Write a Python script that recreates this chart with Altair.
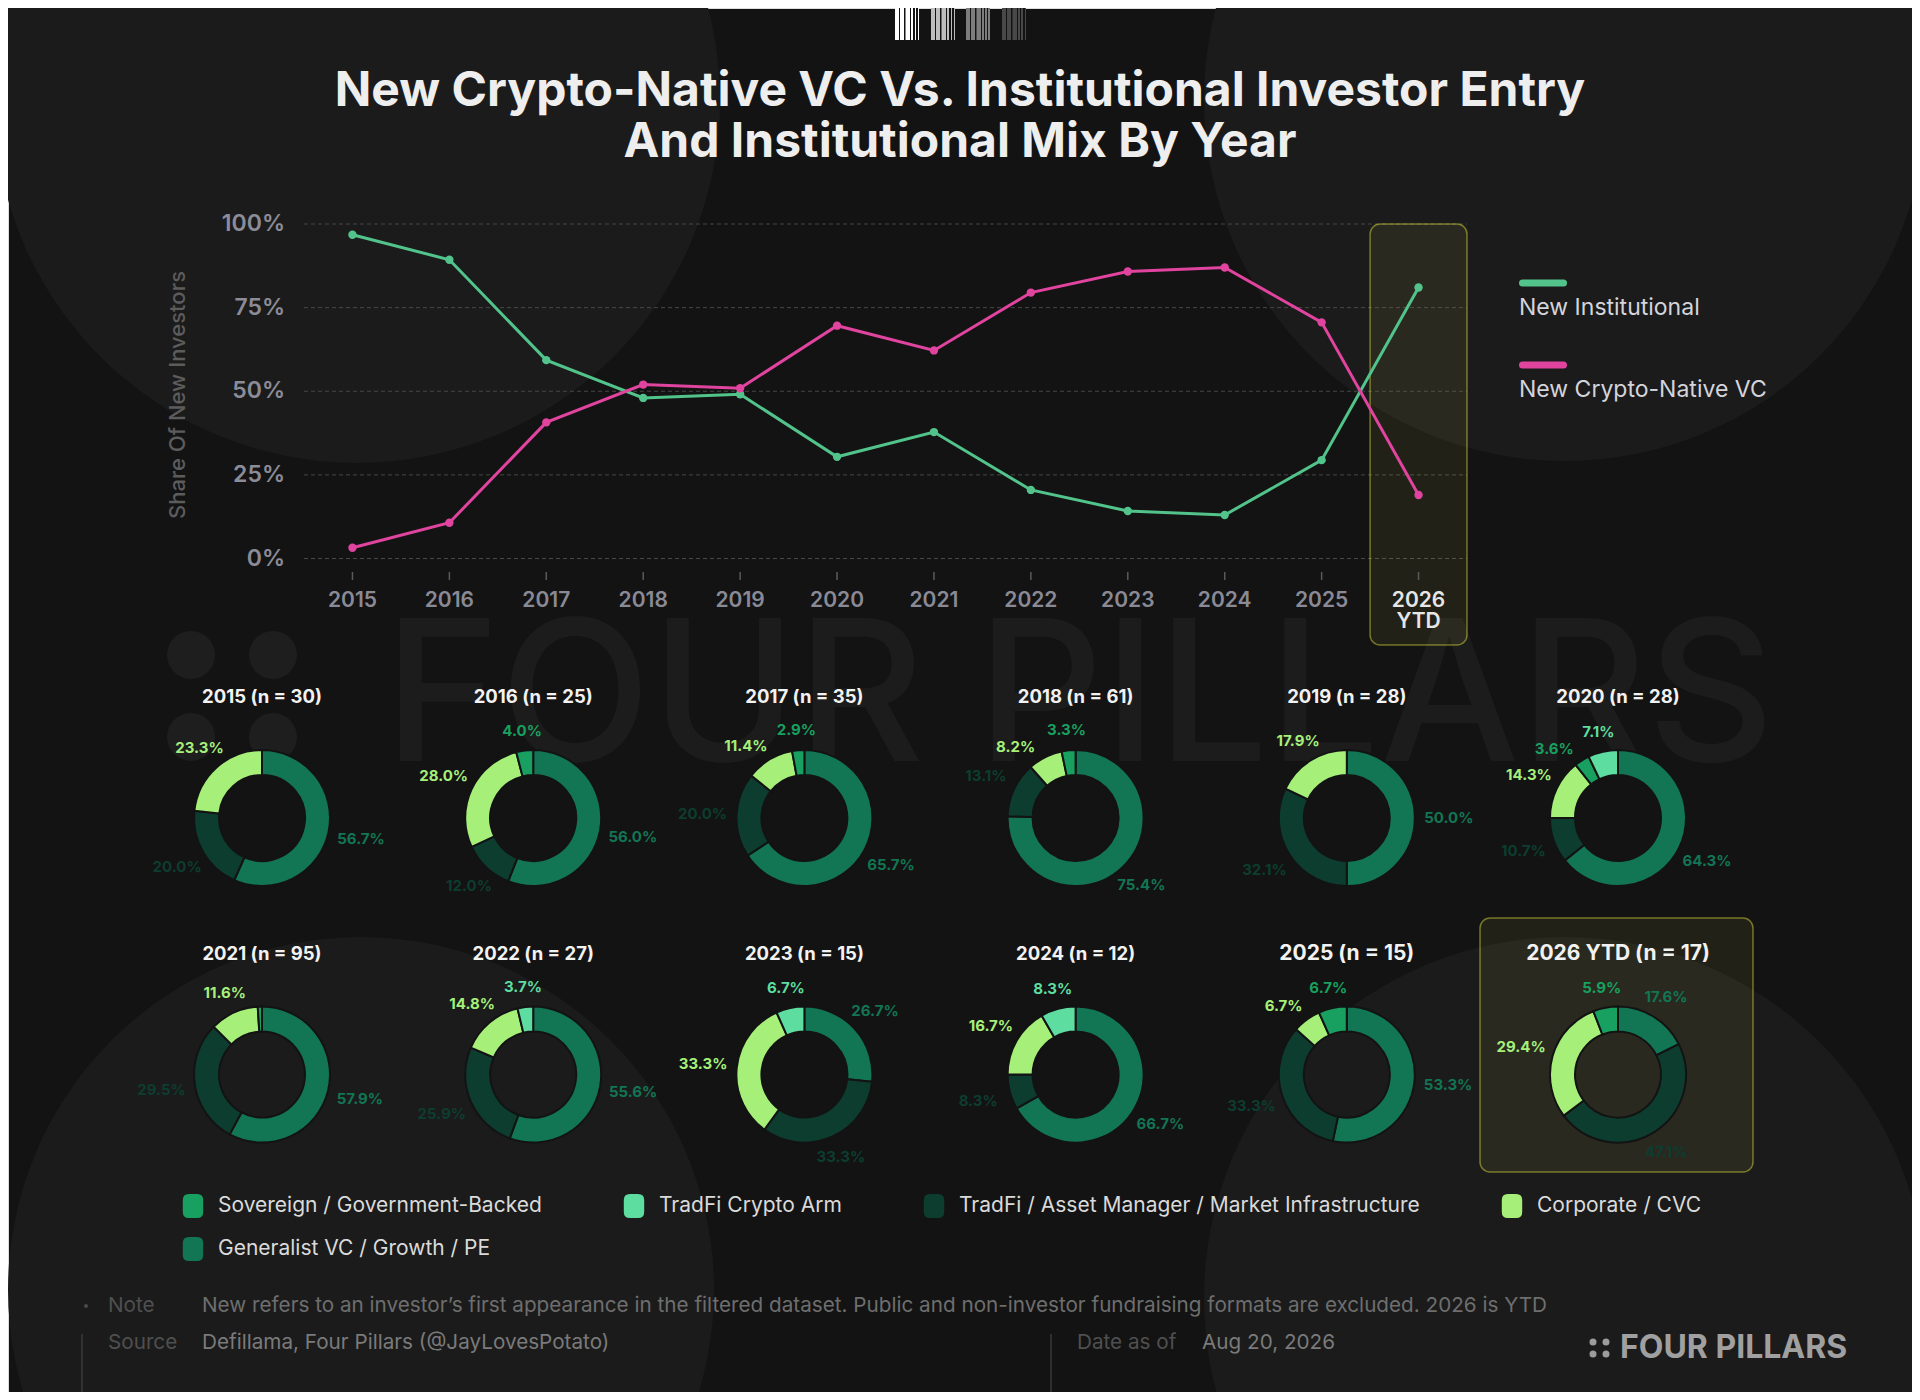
import math
import altair as alt
import pandas as pd

# ---------------- data ----------------
YEARS = ["2015", "2016", "2017", "2018", "2019", "2020", "2021", "2022",
         "2023", "2024", "2025", "2026 YTD"]
X_LABELS = ["2015", "2016", "2017", "2018", "2019", "2020", "2021", "2022",
            "2023", "2024", "2025", "2026\nYTD"]
SERIES = ["New Institutional", "New Crypto-Native VC"]
SERIES_COLORS = ["#52c48b", "#e0449f"]
INSTITUTIONAL = [96.8, 89.3, 59.3, 48.0, 49.1, 30.4, 37.8, 20.5, 14.2, 13.0, 29.4, 81.0]
CRYPTO_NATIVE = [3.2, 10.7, 40.7, 52.0, 50.9, 69.6, 62.2, 79.5, 85.8, 87.0, 70.6, 19.0]
Y_TICKS = [0, 25, 50, 75, 100]
Y_TICK_LABELS = ["0%", "25%", "50%", "75%", "100%"]

N_INVESTORS = [30, 25, 35, 61, 28, 28, 95, 27, 15, 12, 15, 17]
CATEGORIES = ["Sovereign / Government-Backed", "TradFi Crypto Arm",
              "TradFi / Asset Manager / Market Infrastructure", "Corporate / CVC",
              "Generalist VC / Growth / PE"]
CAT_COLORS = ["#17a05f", "#5ddda0", "#0c3d2f", "#a6f07a", "#127553"]
SLICE_ORDER = ["Generalist VC / Growth / PE",
               "TradFi / Asset Manager / Market Infrastructure",
               "Corporate / CVC", "Sovereign / Government-Backed", "TradFi Crypto Arm"]
GENERALIST = [56.7, 56.0, 65.7, 75.4, 50.0, 64.3, 57.9, 55.6, 26.7, 66.7, 53.3, 17.6]
TRADFI_AM = [20.0, 12.0, 20.0, 13.1, 32.1, 10.7, 29.5, 25.9, 33.3, 8.3, 33.3, 47.1]
CORPORATE = [23.3, 28.0, 11.4, 8.2, 17.9, 14.3, 11.6, 14.8, 33.3, 16.7, 6.7, 29.4]
SOVEREIGN = [0, 4.0, 2.9, 3.3, 0, 3.6, 1.0, 0, 0, 0, 6.7, 5.9]
CRYPTO_ARM = [0, 0, 0, 0, 0, 7.1, 0, 3.7, 6.7, 8.3, 0, 0]

TITLE = "New Crypto-Native VC Vs. Institutional Investor Entry\nAnd Institutional Mix By Year"
Y_TITLE = "Share Of New Investors"
NOTE = ("New refers to an investor\u2019s first appearance in the filtered dataset. "
        "Public and non-investor fundraising formats are excluded. 2026 is YTD")
SOURCE = "Defillama, Four Pillars (@JayLovesPotato)"
DATE = "Aug 20, 2026"

# ---------------- tables ----------------
line_rows = []
for i, y in enumerate(YEARS):
    line_rows.append({"year": y, "series": SERIES[0], "value": INSTITUTIONAL[i]})
    line_rows.append({"year": y, "series": SERIES[1], "value": CRYPTO_NATIVE[i]})
line_df = pd.DataFrame(line_rows)
years_df = pd.DataFrame({"year": YEARS, "label": X_LABELS})
ticks_df = pd.DataFrame({"v": Y_TICKS, "t": Y_TICK_LABELS})
series_df = pd.DataFrame({"series": SERIES})

shares = {
    "Generalist VC / Growth / PE": GENERALIST,
    "TradFi / Asset Manager / Market Infrastructure": TRADFI_AM,
    "Corporate / CVC": CORPORATE,
    "Sovereign / Government-Backed": SOVEREIGN,
    "TradFi Crypto Arm": CRYPTO_ARM,
}
donut_rows = []
for i, y in enumerate(YEARS):
    for k, cat in enumerate(SLICE_ORDER):
        v = shares[cat][i]
        if v > 0:
            donut_rows.append({"year": y, "col": i % 6, "row": i // 6,
                               "cat": cat, "order": k, "value": v})
donut_df = pd.DataFrame(donut_rows)
titles_df = pd.DataFrame({
    "year": YEARS,
    "col": [i % 6 for i in range(len(YEARS))],
    "row": [i // 6 for i in range(len(YEARS))],
    "title": [f"{y} (n = {n})" for y, n in zip(YEARS, N_INVESTORS)],
})

# label placement: slice mid-angle, nudged counter-clockwise when neighbours collide
RX, RY, LW, LH = 102, 88, 50, 17


def exy(p):
    a = p / 100 * 2 * math.pi
    r = RX * RY / math.sqrt((RY * math.sin(a)) ** 2 + (RX * math.cos(a)) ** 2)
    return r * math.sin(a), -r * math.cos(a)


def collide(p, q):
    (x1, y1), (x2, y2) = exy(p), exy(q)
    return abs(x1 - x2) < LW and abs(y1 - y2) < LH


label_rows = []
for i, y in enumerate(YEARS):
    cum, items = 0.0, []
    for cat in SLICE_ORDER:
        v = shares[cat][i]
        if v > 0:
            if v >= 2:
                items.append((cat, v, cum + v / 2))
            cum += v
    placed = []
    for cat, v, m in sorted(items, key=lambda t: -t[2]):
        p = m
        while p > m - 15 and any(collide(p, q) for q in placed):
            p -= 0.25
        placed.append(p)
        label_rows.append({"year": y, "col": i % 6, "row": i // 6, "cat": cat,
                           "lmid": p, "label": f"{v:.1f}%"})
labels_df = pd.DataFrame(label_rows)

FONT = "Inter"
BG = "#131313"
one = pd.DataFrame({"k": [0]})


def txt(s, x, y, **kw):
    return alt.Chart(pd.DataFrame({"t": [s]})).mark_text(font=FONT, **kw).encode(
        text="t:N", x=alt.value(x), y=alt.value(y))


def dot(x, y, d, color):
    return alt.Chart(one).mark_circle(size=d * d, color=color, opacity=1).encode(
        x=alt.value(x), y=alt.value(y))


def stripes(bright, mid):
    dark = BG
    segs = [(0, 4.3, bright), (4.3, 5.0, dark), (5.0, 9.0, bright), (9.0, 9.7, dark),
            (9.7, 10.9, mid), (10.9, 15.0, bright), (15.0, 16.2, dark), (16.2, 17.8, bright),
            (17.8, 19.5, dark), (19.5, 20.9, bright), (20.9, 22.5, dark), (22.5, 24.0, bright)]
    stops = []
    for a, b, c in segs:
        stops.append({"offset": a / 24, "color": c})
        stops.append({"offset": b / 24, "color": c})
    return {"gradient": "linear", "x1": 0, "y1": 0, "x2": 1, "y2": 0, "stops": stops}


# ---------------- background decoration ----------------
bg_parts = [
    dot(349, 92, 726, "#1b1b1b"),
    dot(1557, 92, 722, "#1b1b1b"),
    dot(353, 1282, 706, "#1b1b1b"),
    dot(1557, 1290, 722, "#1b1b1b"),
    dot(183, 647, 48, "#1e1e1e"),
    dot(265, 647, 48, "#1e1e1e"),
    dot(183, 729, 48, "#1e1e1e"),
    dot(265, 729, 48, "#1e1e1e"),
    txt("FOUR PILLARS", 376, 694, fontSize=197, fontWeight=500, color="#1c1c1c",
        align="left", baseline="middle"),
]
for x0, b, m in [(887, "#ffffff", "#8a8a8a"), (923, "#bdbdbd", "#6a6a6a"),
                 (958, "#7c7c7c", "#4c4c4c"), (994, "#484848", "#2e2e2e")]:
    bg_parts.append(alt.Chart(one).mark_rect(fill=stripes(b, m)).encode(
        x=alt.value(x0), x2=alt.value(x0 + 24), y=alt.value(0), y2=alt.value(32)))
bg = alt.layer(*bg_parts)

title = txt(TITLE, 952, 98, fontSize=48, fontWeight=700, color="#eeeeee",
            align="center", baseline="alphabetic", lineBreak="\n", lineHeight=51)

# ---------------- line chart ----------------
xs = alt.X("year:N", sort=YEARS, axis=None,
           scale=alt.Scale(type="band", domain=YEARS, range=[296, 1459],
                           paddingInner=0, paddingOuter=0))
ys_scale = alt.Scale(domain=[0, 100], range=[550.5, 216], nice=False, zero=False)
line_color = alt.Color("series:N", legend=None,
                       scale=alt.Scale(domain=SERIES, range=SERIES_COLORS))

grid = alt.Chart(ticks_df).mark_rule(color="#474747", strokeDash=[4, 3], strokeWidth=1).encode(
    y=alt.Y("v:Q", scale=ys_scale, axis=None), x=alt.value(296), x2=alt.value(1459))
ylabels = alt.Chart(ticks_df).mark_text(font=FONT, align="right", baseline="middle",
                                         fontSize=23, fontWeight=600, color="#8c8c98").encode(
    y=alt.Y("v:Q", scale=ys_scale, axis=None), x=alt.value(277), text="t:N")
hl = alt.Chart(years_df[years_df["year"] == YEARS[-1]]).mark_rect(
    cornerRadius=10, fill="#e6e664", fillOpacity=0.07, stroke="#e6e63c",
    strokeOpacity=0.45, strokeWidth=1.5).encode(x=xs, y=alt.value(216), y2=alt.value(637))
xticks = alt.Chart(years_df).mark_rule(color="#5a5a5a", strokeWidth=1.5).encode(
    x=xs, y=alt.value(564), y2=alt.value(572))
xlabels = alt.Chart(years_df).mark_text(font=FONT, baseline="top", fontSize=21, fontWeight=600,
                                         lineBreak="\n", lineHeight=21).encode(
    x=xs, y=alt.value(582), text="label:N",
    color=alt.condition(alt.datum.year == YEARS[-1], alt.value("#e6e6e6"), alt.value("#8a8a96")))
lines = alt.Chart(line_df).mark_line(strokeWidth=3).encode(
    x=xs, y=alt.Y("value:Q", scale=ys_scale, axis=None), color=line_color)
points = alt.Chart(line_df).mark_circle(size=70, opacity=1).encode(
    x=xs, y=alt.Y("value:Q", scale=ys_scale, axis=None), color=line_color)
ytitle = txt(Y_TITLE, 170, 387, fontSize=22, fontWeight=500, color="#5c5c5c",
             angle=270, align="center", baseline="middle")
line_layer = alt.layer(grid, ylabels, hl, xticks, xlabels, lines, points)

leg_y = alt.Y("series:N", sort=SERIES, axis=None,
              scale=alt.Scale(type="point", domain=SERIES, range=[275, 357], padding=0))
leg_bars = alt.Chart(series_df).mark_rule(strokeWidth=7, strokeCap="round").encode(
    y=leg_y, x=alt.value(1514.5), x2=alt.value(1555.5), color=line_color)
leg_text = alt.Chart(series_df).mark_text(font=FONT, align="left", baseline="middle", dy=25,
                                           fontSize=23, color="#d4d4dc").encode(
    y=leg_y, x=alt.value(1511), text="series:N")
line_legend = alt.layer(leg_bars, leg_text)

# ---------------- donuts ----------------
xd = alt.X("col:Q", axis=None, scale=alt.Scale(domain=[0, 5], range=[254, 1610], nice=False, zero=False))
yd = alt.Y("row:Q", axis=None, scale=alt.Scale(domain=[0, 1], range=[810, 1066.6], nice=False, zero=False))
theta_scale = alt.Scale(domain=[0, 100], range=[0, 6.283185])
symbol_path = ("M-0.35,-1L0.35,-1Q0.85,-1 0.85,-0.5L0.85,0.5Q0.85,1 0.35,1L-0.35,1"
               "Q-0.85,1 -0.85,0.5L-0.85,-0.5Q-0.85,-1 -0.35,-1Z")
donut_legend = alt.Legend(orient="none", legendX=173, legendY=1186, columns=4,
                          direction="horizontal", title=None, symbolType=symbol_path,
                          symbolSize=576, symbolStrokeWidth=0, symbolOpacity=1,
                          labelFont=FONT, labelFontSize=21, labelColor="#dadada",
                          labelLimit=800, labelOffset=13, columnPadding=80, rowPadding=19,
                          padding=0)
donut_color = alt.Color("cat:N", legend=donut_legend,
                        scale=alt.Scale(domain=CATEGORIES, range=CAT_COLORS))

arcs = alt.Chart(donut_df).transform_window(
    cum="sum(value)", groupby=["year"], sort=[alt.SortField("order")], frame=[None, 0]
).transform_calculate(
    start="datum.cum - datum.value"
).mark_arc(innerRadius=43, outerRadius=68, stroke=BG, strokeWidth=2).encode(
    x=xd, y=yd, theta=alt.Theta("start:Q", scale=theta_scale, stack=None),
    theta2="cum:Q", color=donut_color)
dlabels = alt.Chart(labels_df).transform_calculate(
    ang="datum.lmid / 100 * 2 * PI"
).transform_calculate(
    rlab=f"{RX} * {RY} / sqrt(pow({RY} * sin(datum.ang), 2) + pow({RX} * cos(datum.ang), 2))"
).mark_text(font=FONT, fontSize=15, fontWeight=700, align="center", baseline="middle").encode(
    x=xd, y=yd, theta=alt.Theta("lmid:Q", scale=theta_scale),
    radius=alt.Radius("rlab:Q", scale=None),
    text="label:N", color=donut_color)
dtitles = alt.Chart(titles_df).mark_text(font=FONT, dy=-121, fontWeight=700,
                                          color="#f2f2f2", baseline="middle").encode(
    x=xd, y=yd, text="title:N",
    size=alt.condition("datum.row == 1 && datum.col >= 4", alt.value(21), alt.value(18.5)))
dbox = alt.Chart(one).mark_rect(cornerRadius=10, fill="#e6e664", fillOpacity=0.07,
                                stroke="#e6e63c", strokeOpacity=0.45, strokeWidth=1.5).encode(
    x=alt.value(1472), x2=alt.value(1745), y=alt.value(910), y2=alt.value(1164))
donut_layer = alt.layer(dbox, arcs, dlabels, dtitles)

# ---------------- footer ----------------
FS = 20.7
footer = alt.layer(
    dot(78, 1298, 4, "#4a4a4a"),
    txt("Note", 100, 1298, fontSize=FS, color="#4f4f4f", align="left", baseline="middle"),
    txt(NOTE, 194, 1298, fontSize=FS, color="#6e6e6e", align="left", baseline="middle"),
    txt("Source", 100, 1335, fontSize=FS, color="#4f4f4f", align="left", baseline="middle"),
    txt(SOURCE, 194, 1335, fontSize=FS, color="#7a7a7a", align="left", baseline="middle"),
    txt("Date as of", 1069, 1335, fontSize=FS, color="#4f4f4f", align="left", baseline="middle"),
    txt(DATE, 1194, 1335, fontSize=FS, color="#7a7a7a", align="left", baseline="middle"),
    alt.Chart(one).mark_rule(color="#3a3a3a", strokeWidth=1.5).encode(
        x=alt.value(74), y=alt.value(1326), y2=alt.value(1384)),
    alt.Chart(one).mark_rule(color="#3a3a3a", strokeWidth=1.5).encode(
        x=alt.value(1043), y=alt.value(1326), y2=alt.value(1384)),
    dot(1585, 1334, 7, "#9c9c9c"), dot(1598, 1334, 7, "#9c9c9c"),
    dot(1585, 1346, 7, "#9c9c9c"), dot(1598, 1346, 7, "#9c9c9c"),
    txt("FOUR PILLARS", 1612, 1340, fontSize=32, fontWeight=700, color="#a0a0a0",
        align="left", baseline="middle"),
)

chart = alt.layer(bg, title, line_layer, ytitle, line_legend, donut_layer, footer).resolve_scale(
    x="independent", y="independent", color="independent", theta="independent"
).properties(
    width=1904, height=1384, background=BG, padding=0,
    autosize=alt.AutoSizeParams(type="none")
).configure_view(stroke=None).configure(font=FONT)

chart.save("out.html", embed_options={"renderer": "svg", "actions": False})
